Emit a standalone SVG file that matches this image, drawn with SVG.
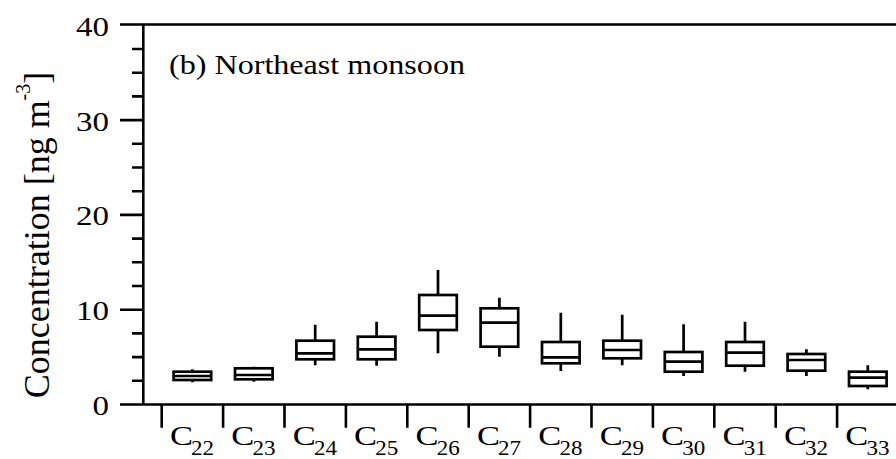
<svg xmlns="http://www.w3.org/2000/svg" width="896" height="459" viewBox="0 0 896 459">
<style>
.ax{stroke:#000;stroke-width:2.6;fill:none;stroke-linecap:butt}
.bx{stroke:#000;stroke-width:2.7;fill:none}
.t{font-family:"Liberation Serif","Times New Roman",serif;fill:#000}
.tick{font-size:27px;text-anchor:end}
.c{font-size:27px}
.s{font-size:22px}
</style>
<rect width="896" height="459" fill="#fff"/>
<g id="axes">
<path class="ax" d="M143.3,24.5V404.5M120,24.5H896M120,404.5H896"/>
<path class="ax" d="M120,309.7H143.3M120,214.9H143.3M120,120.1H143.3"/>
<path class="ax" d="M132,380.8H143.3M132,357.1H143.3M132,333.4H143.3M132,286H143.3M132,262.3H143.3M132,238.6H143.3M132,191.2H143.3M132,167.5H143.3M132,143.8H143.3M132,96.4H143.3M132,72.7H143.3M132,49H143.3"/>
<path class="ax" d="M161.7,404.5V427.7M223.1,404.5V427.7M284.5,404.5V427.7M345.9,404.5V427.7M407.3,404.5V427.7M468.7,404.5V427.7M530.1,404.5V427.7M591.5,404.5V427.7M652.9,404.5V427.7M714.3,404.5V427.7M775.7,404.5V427.7M837.1,404.5V427.7"/>
<text class="t tick" x="109" y="36" textLength="33" lengthAdjust="spacingAndGlyphs">40</text>
<text class="t tick" x="109" y="131" textLength="33" lengthAdjust="spacingAndGlyphs">30</text>
<text class="t tick" x="109" y="225" textLength="33" lengthAdjust="spacingAndGlyphs">20</text>
<text class="t tick" x="109" y="320" textLength="33" lengthAdjust="spacingAndGlyphs">10</text>
<text class="t tick" x="109" y="415" textLength="16.5" lengthAdjust="spacingAndGlyphs">0</text>
<text class="t" x="48.5" y="235" font-size="36" text-anchor="middle" transform="rotate(-90 48.5 235)">Concentration [ng m<tspan font-size="20" dy="-19">-3</tspan><tspan dy="19">]</tspan></text>
<text class="t" x="169" y="73.5" font-size="28" textLength="296" lengthAdjust="spacingAndGlyphs">(b) Northeast monsoon</text>
</g>
<g id="labels">
<g id="L22"><text class="t c" x="169.9" y="445" textLength="23" lengthAdjust="spacingAndGlyphs">C</text><text class="t s" x="191.1" y="455" textLength="23" lengthAdjust="spacingAndGlyphs">22</text></g>
<g id="L23"><text class="t c" x="231.3" y="445" textLength="23" lengthAdjust="spacingAndGlyphs">C</text><text class="t s" x="252.5" y="455" textLength="23" lengthAdjust="spacingAndGlyphs">23</text></g>
<g id="L24"><text class="t c" x="292.7" y="445" textLength="23" lengthAdjust="spacingAndGlyphs">C</text><text class="t s" x="313.9" y="455" textLength="23" lengthAdjust="spacingAndGlyphs">24</text></g>
<g id="L25"><text class="t c" x="354.1" y="445" textLength="23" lengthAdjust="spacingAndGlyphs">C</text><text class="t s" x="375.3" y="455" textLength="23" lengthAdjust="spacingAndGlyphs">25</text></g>
<g id="L26"><text class="t c" x="415.5" y="445" textLength="23" lengthAdjust="spacingAndGlyphs">C</text><text class="t s" x="436.7" y="455" textLength="23" lengthAdjust="spacingAndGlyphs">26</text></g>
<g id="L27"><text class="t c" x="476.9" y="445" textLength="23" lengthAdjust="spacingAndGlyphs">C</text><text class="t s" x="498.1" y="455" textLength="23" lengthAdjust="spacingAndGlyphs">27</text></g>
<g id="L28"><text class="t c" x="538.3" y="445" textLength="23" lengthAdjust="spacingAndGlyphs">C</text><text class="t s" x="559.5" y="455" textLength="23" lengthAdjust="spacingAndGlyphs">28</text></g>
<g id="L29"><text class="t c" x="599.7" y="445" textLength="23" lengthAdjust="spacingAndGlyphs">C</text><text class="t s" x="620.9" y="455" textLength="23" lengthAdjust="spacingAndGlyphs">29</text></g>
<g id="L30"><text class="t c" x="661.1" y="445" textLength="23" lengthAdjust="spacingAndGlyphs">C</text><text class="t s" x="682.3" y="455" textLength="23" lengthAdjust="spacingAndGlyphs">30</text></g>
<g id="L31"><text class="t c" x="722.5" y="445" textLength="23" lengthAdjust="spacingAndGlyphs">C</text><text class="t s" x="743.7" y="455" textLength="23" lengthAdjust="spacingAndGlyphs">31</text></g>
<g id="L32"><text class="t c" x="783.9" y="445" textLength="23" lengthAdjust="spacingAndGlyphs">C</text><text class="t s" x="805.1" y="455" textLength="23" lengthAdjust="spacingAndGlyphs">32</text></g>
<g id="L33"><text class="t c" x="845.3" y="445" textLength="23" lengthAdjust="spacingAndGlyphs">C</text><text class="t s" x="866.5" y="455" textLength="23" lengthAdjust="spacingAndGlyphs">33</text></g>
</g>
<g id="boxes">
<g id="C22"><path class="bx" d="M192.4,369.3V371.7M192.4,380V382.3M173.6,376H211.2"/><rect class="bx" x="173.6" y="371.7" width="37.6" height="8.3"/></g>
<g id="C23"><path class="bx" d="M253.8,366.7V368.3M253.8,379.3V381.7M235,375H272.6"/><rect class="bx" x="235" y="368.3" width="37.6" height="11"/></g>
<g id="C24"><path class="bx" d="M315.2,324.7V340.7M315.2,359.3V365.3M296.4,353.3H334"/><rect class="bx" x="296.4" y="340.7" width="37.6" height="18.6"/></g>
<g id="C25"><path class="bx" d="M376.6,321.7V336.7M376.6,359.3V365.7M357.8,349.3H395.4"/><rect class="bx" x="357.8" y="336.7" width="37.6" height="22.6"/></g>
<g id="C26"><path class="bx" d="M438,270V295M438,330V353.3M419.2,315.7H456.8"/><rect class="bx" x="419.2" y="295" width="37.6" height="35"/></g>
<g id="C27"><path class="bx" d="M499.4,297.7V308.3M499.4,346.7V356.7M480.6,322.7H518.2"/><rect class="bx" x="480.6" y="308.3" width="37.6" height="38.4"/></g>
<g id="C28"><path class="bx" d="M560.8,312.7V342M560.8,363.3V371M542,357.3H579.6"/><rect class="bx" x="542" y="342" width="37.6" height="21.3"/></g>
<g id="C29"><path class="bx" d="M622.2,314.7V340.7M622.2,358.3V365.3M603.4,350H641"/><rect class="bx" x="603.4" y="340.7" width="37.6" height="17.6"/></g>
<g id="C30"><path class="bx" d="M683.6,324.3V352M683.6,371.7V376M664.8,361.7H702.4"/><rect class="bx" x="664.8" y="352" width="37.6" height="19.7"/></g>
<g id="C31"><path class="bx" d="M745,321.7V342M745,365.7V371.7M726.2,352.7H763.8"/><rect class="bx" x="726.2" y="342" width="37.6" height="23.7"/></g>
<g id="C32"><path class="bx" d="M806.4,349.3V354M806.4,370.7V376M787.6,360H825.2"/><rect class="bx" x="787.6" y="354" width="37.6" height="16.7"/></g>
<g id="C33"><path class="bx" d="M867.8,365.3V371.7M867.8,386V389.3M849,377.7H886.6"/><rect class="bx" x="849" y="371.7" width="37.6" height="14.3"/></g>
</g>
</svg>
